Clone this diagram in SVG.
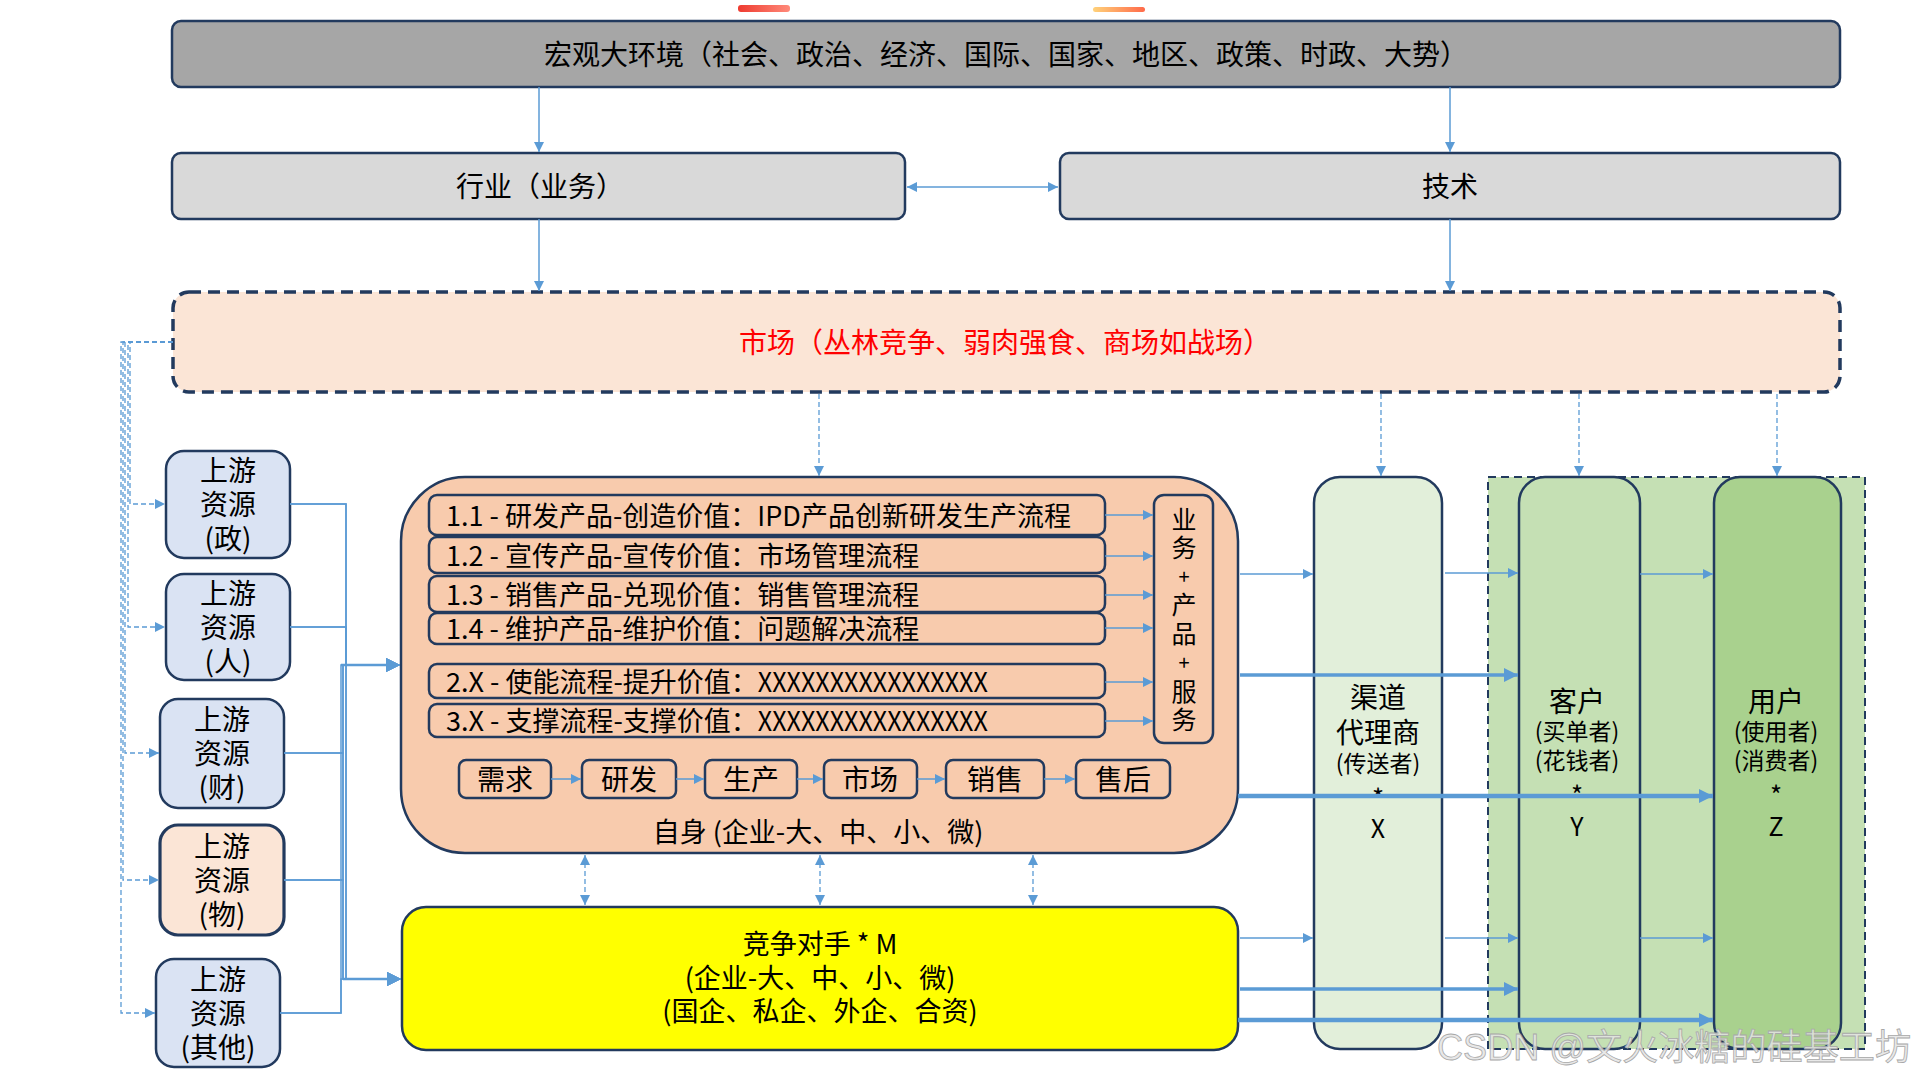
<svg xmlns="http://www.w3.org/2000/svg" width="1920" height="1080" viewBox="0 0 1920 1080">
<defs>
<style>
.t{font-family:"Noto Sans CJK SC","Noto Sans",sans-serif;fill:#000;dominant-baseline:central}
.c{text-anchor:middle}
.nb{stroke:#223A5E;stroke-width:2.5}
.ln{fill:none;stroke:#5B9BD5;stroke-width:1.5}
.w2{stroke-width:2.5}
.w3{stroke-width:3.5}
.w4{stroke-width:4.5}
.dl{fill:none;stroke:#5B9BD5;stroke-width:1.3;stroke-dasharray:5 3}
.row{fill:#F8CBAD;stroke:#223A5E;stroke-width:2.5}
</style>
<marker id="a" markerUnits="userSpaceOnUse" viewBox="0 0 10 10" markerWidth="11" markerHeight="10" refX="10" refY="5" orient="auto-start-reverse"><path d="M0,0L10,5L0,10z" fill="#5B9BD5"/></marker>
<marker id="b" markerUnits="userSpaceOnUse" viewBox="0 0 10 10" markerWidth="14" markerHeight="14" refX="10" refY="5" orient="auto-start-reverse"><path d="M0,0L10,5L0,10z" fill="#5B9BD5"/></marker>
<linearGradient id="gr" x1="0" x2="1" y1="0" y2="0"><stop offset="0" stop-color="#EE3B30"/><stop offset="1" stop-color="#FF8A7A"/></linearGradient>
<linearGradient id="go" x1="0" x2="1" y1="0" y2="0"><stop offset="0" stop-color="#FFD27A"/><stop offset="1" stop-color="#FF6A4A"/></linearGradient>
</defs>
<rect width="1920" height="1080" fill="#fff"/>
<rect x="738" y="5" width="52" height="7" rx="3" fill="url(#gr)"/>
<rect x="1093" y="7" width="52" height="5" rx="2.5" fill="url(#go)"/>

<g id="macro"><rect x="172" y="21" width="1668" height="66" rx="9" fill="#A6A6A6" class="nb"/><text class="t c" x="1006" y="53" font-size="28">宏观大环境（社会、政治、经济、国际、国家、地区、政策、时政、大势）</text></g>
<g id="industry"><rect x="172" y="153" width="733" height="66" rx="9" fill="#D9D9D9" class="nb"/><text class="t c" x="540" y="185" font-size="28">行业（业务）</text></g>
<g id="tech"><rect x="1060" y="153" width="780" height="66" rx="9" fill="#D9D9D9" class="nb"/><text class="t c" x="1450" y="185" font-size="28">技术</text></g>
<g id="market"><rect x="173" y="292" width="1667" height="100" rx="16" fill="#FBE5D6" stroke="#223A5E" stroke-width="3.5" stroke-dasharray="12 7"/><text class="t c" x="1005" y="341" font-size="28" style="fill:#FF0000">市场（丛林竞争、弱肉强食、商场如战场）</text></g>

<g id="up-zheng"><rect x="166" y="451" width="124" height="107" rx="18" fill="#DAE3F3" class="nb"/><text class="t c" font-size="28"><tspan x="228" y="469">上游</tspan><tspan x="228" y="503">资源</tspan><tspan x="228" y="537">(政)</tspan></text></g>
<g id="up-ren"><rect x="166" y="574" width="124" height="106" rx="18" fill="#DAE3F3" class="nb"/><text class="t c" font-size="28"><tspan x="228" y="592">上游</tspan><tspan x="228" y="626">资源</tspan><tspan x="228" y="660">(人)</tspan></text></g>
<g id="up-cai"><rect x="160" y="699" width="124" height="109" rx="18" fill="#DAE3F3" class="nb"/><text class="t c" font-size="28"><tspan x="222" y="718">上游</tspan><tspan x="222" y="752">资源</tspan><tspan x="222" y="786">(财)</tspan></text></g>
<g id="up-wu"><rect x="160" y="825" width="124" height="110" rx="18" fill="#FBE5D6" stroke="#223A5E" stroke-width="3.2"/><text class="t c" font-size="28"><tspan x="222" y="845">上游</tspan><tspan x="222" y="879">资源</tspan><tspan x="222" y="913">(物)</tspan></text></g>
<g id="up-other"><rect x="156" y="959" width="124" height="108" rx="18" fill="#DAE3F3" class="nb"/><text class="t c" font-size="28"><tspan x="218" y="978">上游</tspan><tspan x="218" y="1012">资源</tspan><tspan x="218" y="1046">(其他)</tspan></text></g>

<g id="self">
<rect x="401" y="477" width="837" height="376" rx="64" fill="#F8CBAD" class="nb"/>
<rect class="row" x="429" y="495" width="676" height="40" rx="8"/>
<rect class="row" x="429" y="537" width="676" height="36" rx="8"/>
<rect class="row" x="429" y="576" width="676" height="36" rx="8"/>
<rect class="row" x="429" y="613" width="676" height="31" rx="8"/>
<rect class="row" x="429" y="664" width="676" height="34" rx="8"/>
<rect class="row" x="429" y="704" width="676" height="33" rx="8"/>
<text class="t" x="446" y="514" font-size="27">1.1 - 研发产品-创造价值：IPD产品创新研发生产流程</text>
<text class="t" x="446" y="554" font-size="27">1.2 - 宣传产品-宣传价值：市场管理流程</text>
<text class="t" x="446" y="593" font-size="27">1.3 - 销售产品-兑现价值：销售管理流程</text>
<text class="t" x="446" y="627" font-size="27">1.4 - 维护产品-维护价值：问题解决流程</text>
<text class="t" x="446" y="680" font-size="27">2.X - 使能流程-提升价值：<tspan textLength="230" lengthAdjust="spacingAndGlyphs">XXXXXXXXXXXXXXXX</tspan></text>
<text class="t" x="446" y="719" font-size="27">3.X - 支撑流程-支撑价值：<tspan textLength="230" lengthAdjust="spacingAndGlyphs">XXXXXXXXXXXXXXXX</tspan></text>
<rect class="row" x="1154" y="495" width="59" height="248" rx="10"/>
<text class="t c" font-size="25"><tspan x="1184" y="518">业</tspan><tspan x="1184" y="546">务</tspan><tspan x="1184" y="575" font-size="20">+</tspan><tspan x="1184" y="603">产</tspan><tspan x="1184" y="632">品</tspan><tspan x="1184" y="661" font-size="20">+</tspan><tspan x="1184" y="690">服</tspan><tspan x="1184" y="718">务</tspan></text>
<rect class="row" x="459" y="760" width="92" height="38" rx="7"/>
<rect class="row" x="582" y="760" width="94" height="38" rx="7"/>
<rect class="row" x="705" y="760" width="92" height="38" rx="7"/>
<rect class="row" x="824" y="760" width="93" height="38" rx="7"/>
<rect class="row" x="946" y="760" width="98" height="38" rx="7"/>
<rect class="row" x="1076" y="760" width="94" height="38" rx="7"/>
<text class="t c" font-size="28"><tspan x="505" y="778">需求</tspan><tspan x="629" y="778">研发</tspan><tspan x="751" y="778">生产</tspan><tspan x="870" y="778">市场</tspan><tspan x="995" y="778">销售</tspan><tspan x="1123" y="778">售后</tspan></text>
<text class="t c" x="818" y="830" font-size="27">自身 (企业-大、中、小、微)</text>
</g>

<g id="competitor"><rect x="402" y="907" width="836" height="143" rx="24" fill="#FFFF00" class="nb"/><text class="t c" font-size="27"><tspan x="820" y="942">竞争对手 * M</tspan><tspan x="820" y="976">(企业-大、中、小、微)</tspan><tspan x="820" y="1009">(国企、私企、外企、合资)</tspan></text></g>

<g id="target-group"><rect x="1488" y="477" width="377" height="572" fill="#C5E0B4" stroke="#223A5E" stroke-width="2" stroke-dasharray="8 5"/></g>
<g id="channel"><rect x="1314" y="477" width="128" height="572" rx="26" fill="#E2EFDA" class="nb"/><text class="t c"><tspan x="1378" y="696" font-size="28">渠道</tspan><tspan x="1378" y="731" font-size="28">代理商</tspan><tspan x="1378" y="762" font-size="23">(传送者)</tspan><tspan x="1378" y="796" font-size="26">*</tspan><tspan x="1378" y="827" font-size="25">X</tspan></text></g>
<g id="customer"><rect x="1519" y="477" width="121" height="572" rx="26" fill="#C5E0B4" class="nb"/><text class="t c"><tspan x="1577" y="700" font-size="28">客户</tspan><tspan x="1577" y="730" font-size="23">(买单者)</tspan><tspan x="1577" y="759" font-size="23">(花钱者)</tspan><tspan x="1577" y="793" font-size="26">*</tspan><tspan x="1577" y="825" font-size="25">Y</tspan></text></g>
<g id="user"><rect x="1714" y="477" width="127" height="572" rx="26" fill="#A9D18E" class="nb"/><text class="t c"><tspan x="1776" y="700" font-size="28">用户</tspan><tspan x="1776" y="730" font-size="23">(使用者)</tspan><tspan x="1776" y="759" font-size="23">(消费者)</tspan><tspan x="1776" y="793" font-size="26">*</tspan><tspan x="1776" y="825" font-size="25">Z</tspan></text></g>

<g id="connectors">
<path class="ln" d="M539,87V152" marker-end="url(#a)"/>
<path class="ln" d="M1450,87V152" marker-end="url(#a)"/>
<path class="ln" d="M907,187H1058" marker-start="url(#a)" marker-end="url(#a)"/>
<path class="ln" d="M539,219V291" marker-end="url(#a)"/>
<path class="ln" d="M1450,219V291" marker-end="url(#a)"/>
<path class="dl" d="M819,394V476" marker-end="url(#a)"/>
<path class="dl" d="M1381,394V476" marker-end="url(#a)"/>
<path class="dl" d="M1579,394V476" marker-end="url(#a)"/>
<path class="dl" d="M1777,394V476" marker-end="url(#a)"/>
<path class="dl" d="M173,342H130V504H165" marker-end="url(#a)"/>
<path class="dl" d="M173,342H128V627H165" marker-end="url(#a)"/>
<path class="dl" d="M173,342H125V753H159" marker-end="url(#a)"/>
<path class="dl" d="M173,342H123V880H159" marker-end="url(#a)"/>
<path class="dl" d="M173,342H121V1013H155" marker-end="url(#a)"/>
<path class="ln" d="M290,504H346V665H400" marker-end="url(#b)"/>
<path class="ln" d="M290,504H346V979H401" marker-end="url(#b)"/>
<path class="ln" d="M290,627H346V665H400" marker-end="url(#b)"/>
<path class="ln" d="M290,627H346V979H401" marker-end="url(#b)"/>
<path class="ln" d="M284,753H343V665H400" marker-end="url(#b)"/>
<path class="ln" d="M284,753H343V979H401" marker-end="url(#b)"/>
<path class="ln" d="M284,880H343V665H400" marker-end="url(#b)"/>
<path class="ln" d="M284,880H343V979H401" marker-end="url(#b)"/>
<path class="ln" d="M280,1013H341V665H400" marker-end="url(#b)"/>
<path class="ln" d="M280,1013H341V979H401" marker-end="url(#b)"/>
<path class="ln w2" d="M341,665H392"/>
<path class="ln w2" d="M343,979H393"/>
<path class="ln" d="M1105,515H1153" marker-end="url(#a)"/>
<path class="ln" d="M1105,556H1153" marker-end="url(#a)"/>
<path class="ln" d="M1105,595H1153" marker-end="url(#a)"/>
<path class="ln" d="M1105,628H1153" marker-end="url(#a)"/>
<path class="ln" d="M1105,682H1153" marker-end="url(#a)"/>
<path class="ln" d="M1105,721H1153" marker-end="url(#a)"/>
<path class="ln" d="M551,779H581" marker-end="url(#a)"/>
<path class="ln" d="M676,779H704" marker-end="url(#a)"/>
<path class="ln" d="M797,779H823" marker-end="url(#a)"/>
<path class="ln" d="M917,779H945" marker-end="url(#a)"/>
<path class="ln" d="M1044,779H1075" marker-end="url(#a)"/>
<path class="dl" d="M585,855V905" marker-start="url(#a)" marker-end="url(#a)"/>
<path class="dl" d="M820,855V905" marker-start="url(#a)" marker-end="url(#a)"/>
<path class="dl" d="M1033,855V905" marker-start="url(#a)" marker-end="url(#a)"/>
<path class="ln" d="M1240,574H1313" marker-end="url(#a)"/>
<path class="ln" d="M1445,573H1518" marker-end="url(#a)"/>
<path class="ln" d="M1640,574H1713" marker-end="url(#a)"/>
<path class="ln w3" d="M1240,675H1518" marker-end="url(#b)"/>
<path class="ln w4" d="M1238,796H1713" marker-end="url(#b)"/>
<path class="ln" d="M1240,938H1313" marker-end="url(#a)"/>
<path class="ln" d="M1445,938H1518" marker-end="url(#a)"/>
<path class="ln" d="M1640,938H1713" marker-end="url(#a)"/>
<path class="ln w3" d="M1240,989H1518" marker-end="url(#b)"/>
<path class="ln w4" d="M1238,1020H1713" marker-end="url(#b)"/>
</g>

<text x="1437" y="1047" font-family="'Liberation Sans','Noto Sans CJK SC',sans-serif" font-size="36" dominant-baseline="central" textLength="474" lengthAdjust="spacingAndGlyphs" fill="#E4E4E4" fill-opacity="0.85" stroke="#A8A8A8" stroke-width="0.8">CSDN @文火冰糖的硅基工坊</text>
</svg>
